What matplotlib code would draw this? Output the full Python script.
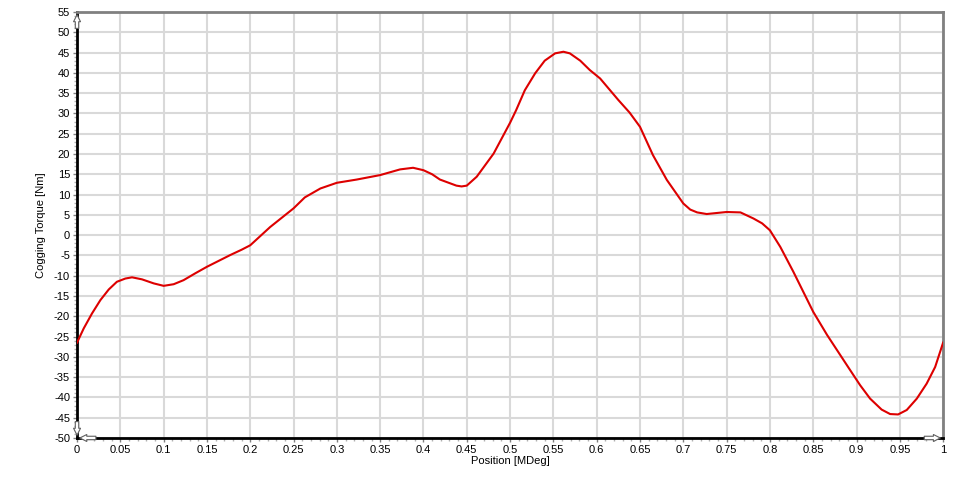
import numpy as np
import matplotlib
matplotlib.use('Agg')
import matplotlib.pyplot as plt
from matplotlib.ticker import MultipleLocator

# values
position = [0.0, 0.0077, 0.0173, 0.027, 0.0366, 0.046, 0.0558, 0.0635, 0.075, 0.0886,
            0.1, 0.1116, 0.123, 0.1366, 0.15, 0.177, 0.19, 0.2, 0.223, 0.25, 0.263,
            0.281, 0.3, 0.323, 0.35, 0.373, 0.388, 0.4, 0.41, 0.419, 0.438,
            0.444, 0.45, 0.4615, 0.481, 0.5, 0.507, 0.517, 0.529, 0.54, 0.552, 0.5616,
            0.569, 0.581, 0.592, 0.604, 0.625, 0.638, 0.65, 0.665, 0.681, 0.7, 0.708,
            0.716, 0.727, 0.75, 0.766, 0.781, 0.791, 0.8, 0.812, 0.827, 0.85, 0.866,
            0.8915, 0.9042, 0.9157, 0.929, 0.9388, 0.948, 0.958, 0.9696, 0.981, 0.9908,
            1.0]
torque = [-26.5, -23.0, -19.3, -16.0, -13.4, -11.5, -10.7, -10.4, -10.9, -11.9,
          -12.5, -12.1, -11.1, -9.4, -7.8, -4.9, -3.6, -2.5, 2.0, 6.6, 9.3,
          11.5, 12.9, 13.7, 14.8, 16.2, 16.6, 16.0, 15.0, 13.7, 12.2,
          12.0, 12.2, 14.4, 20.1, 27.7, 30.8, 35.7, 39.9, 43.0, 44.8, 45.2,
          44.8, 43.0, 40.7, 38.6, 33.3, 30.2, 26.7, 19.7, 13.6, 7.8, 6.3,
          5.6, 5.2, 5.7, 5.6, 4.1, 2.9, 1.2, -2.9, -9.0, -18.9, -24.6,
          -32.9, -37.0, -40.3, -43.0, -44.1, -44.2, -43.1, -40.3, -36.6, -32.5,
          -26.5]

x_ticks = np.round(np.arange(0, 1.0001, 0.05), 2)
x_labels = ['0'] + [('%g' % v) for v in x_ticks[1:]]
y_ticks = list(range(-50, 56, 5))

plt.rcParams['font.family'] = ['Liberation Sans', 'DejaVu Sans']
plt.rcParams['axes.unicode_minus'] = False

fig = plt.figure(figsize=(9.57, 4.83), dpi=100)
ax = fig.add_axes([0.0805, 0.0932, 0.905, 0.882])

ax.plot(position, torque, color='#dd0000', lw=1.5, zorder=3)

ax.set_xlim(0, 1)
ax.set_ylim(-50, 55)
ax.set_xticks(x_ticks)
ax.set_xticklabels(x_labels)
ax.set_yticks(y_ticks)
ax.xaxis.set_minor_locator(MultipleLocator(0.01))
ax.yaxis.set_minor_locator(MultipleLocator(1))
ax.grid(True, which='major', color='#d9d9d9', lw=1.5)
ax.set_axisbelow(True)

ax.tick_params(which='major', direction='out', length=3, width=1, color='#808080',
               labelsize=8, pad=2)
ax.tick_params(which='minor', direction='out', length=2, width=1, color='#b0b0b0')

for side in ['left', 'bottom']:
    ax.spines[side].set_color('black')
    ax.spines[side].set_linewidth(2)
for side in ['top', 'right']:
    ax.spines[side].set_color('#808080')
    ax.spines[side].set_linewidth(2)

ax.set_xlabel('Position [MDeg]', fontsize=8, labelpad=1)
ax.set_ylabel('Cogging Torque [Nm]', fontsize=8, labelpad=6)

# hollow arrows at the ends of the axes
arr = dict(arrowstyle='simple,head_length=0.5,head_width=0.5,tail_width=0.25',
           fc='white', ec='#606060', lw=0.8)
ax.annotate('', xy=(0, 1.0), xytext=(0, 0.955), xycoords='axes fraction', arrowprops=arr)
ax.annotate('', xy=(0, 0.0), xytext=(0, 0.045), xycoords='axes fraction', arrowprops=arr)
ax.annotate('', xy=(0.0, 0), xytext=(0.025, 0), xycoords='axes fraction', arrowprops=arr)
ax.annotate('', xy=(1.0, 0), xytext=(0.975, 0), xycoords='axes fraction', arrowprops=arr)

fig.savefig('out.png', dpi=100)
